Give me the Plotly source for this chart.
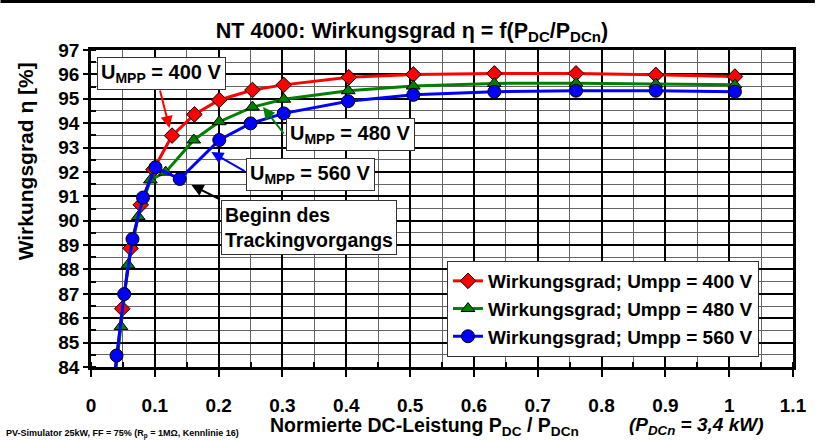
import plotly.graph_objects as go

# ---- data ----
x_400 = [0.037, 0.049, 0.062, 0.078, 0.098, 0.127, 0.162, 0.201, 0.253, 0.302, 0.404, 0.505, 0.632, 0.760, 0.885, 1.009]
y_400 = [83.6, 86.39, 88.87, 90.65, 92.10, 93.49, 94.36, 94.95, 95.36, 95.57, 95.88, 96.00, 96.04, 96.04, 95.98, 95.91]

x_480 = [0.036, 0.047, 0.058, 0.074, 0.093, 0.117, 0.161, 0.201, 0.253, 0.302, 0.403, 0.505, 0.632, 0.760, 0.885, 1.009]
y_480 = [83.2, 85.66, 88.19, 90.17, 91.67, 91.99, 93.31, 94.06, 94.66, 94.98, 95.33, 95.52, 95.63, 95.64, 95.60, 95.57]

x_560 = [0.031, 0.040, 0.052, 0.065, 0.0815, 0.101, 0.139, 0.201, 0.250, 0.302, 0.403, 0.505, 0.632, 0.760, 0.885, 1.009]
y_560 = [82.4, 84.47, 86.99, 89.25, 90.95, 92.19, 91.71, 93.31, 93.99, 94.40, 94.90, 95.16, 95.29, 95.33, 95.33, 95.29]

series_names = ["Wirkungsgrad; Umpp = 400 V", "Wirkungsgrad; Umpp = 480 V", "Wirkungsgrad; Umpp = 560 V"]
x_ticks = [0, 0.1, 0.2, 0.3, 0.4, 0.5, 0.6, 0.7, 0.8, 0.9, 1, 1.1]
x_tick_labels = ["0", "0.1", "0.2", "0.3", "0.4", "0.5", "0.6", "0.7", "0.8", "0.9", "1", "1.1"]
y_ticks = list(range(84, 98))

FONT = "Arial, Liberation Sans, sans-serif"

fig = go.Figure()
fig.add_trace(go.Scatter(x=x_400, y=y_400, name=series_names[0], mode="lines+markers",
                         line=dict(color="#ff0000", width=3),
                         marker=dict(symbol="diamond", size=12, color="#ff0000", line=dict(color="black", width=1))))
fig.add_trace(go.Scatter(x=x_480, y=y_480, name=series_names[1], mode="lines+markers",
                         line=dict(color="#008000", width=3),
                         marker=dict(symbol="triangle-up", size=12, color="#008000", line=dict(color="black", width=1))))
fig.add_trace(go.Scatter(x=x_560, y=y_560, name=series_names[2], mode="lines+markers",
                         line=dict(color="#0000ff", width=3),
                         marker=dict(symbol="circle", size=13, color="#0000ff", line=dict(color="black", width=1))))

L, R, T, B = 91, 797, 50, 367
W, H = 819, 441

def px2x(px):
    return (px - L) / (R - L) * 1.1

def px2y(py):
    return 97 - (py - T) / (B - T) * 13

annotations = []
# text boxes
boxes = [
    ("U<sub>MPP</sub> = 400 V", 97, 57, 20),
    ("U<sub>MPP</sub> = 480 V", 287, 118, 20),
    ("U<sub>MPP</sub> = 560 V", 247, 158, 20),
    ("Beginn des<br>Trackingvorgangs", 222, 200, 19.5),
]
for txt, bx, by, fs in boxes:
    annotations.append(dict(x=px2x(bx), y=px2y(by), xref="x", yref="y", text=txt, showarrow=False,
                            xanchor="left", yanchor="top", align="left",
                            font=dict(family=FONT, size=fs, color="black", weight="bold"),
                            bgcolor="white", bordercolor="#333", borderwidth=1, borderpad=3))
# arrows (head -> tail)
arrows = [
    ((170, 128), (160, 89), "#ff0000"),
    ((264, 107), (286, 135), "#008000"),
    ((212, 152), (247, 172), "#0000ff"),
    ((192, 185), (222, 200), "black"),
]
for (hx, hy), (tx, ty), c in arrows:
    annotations.append(dict(x=px2x(hx), y=px2y(hy), xref="x", yref="y",
                            ax=px2x(tx), ay=px2y(ty), axref="x", ayref="y",
                            text="", showarrow=True, arrowhead=2, arrowsize=1.2,
                            arrowwidth=2, arrowcolor=c))

def pxp(px):
    return (px - L) / (R - L)

def pyp(py):
    return (B - py) / (B - T)

# y-axis title
annotations.append(dict(x=pxp(25), y=pyp(161), xref="paper", yref="paper", text="Wirkungsgrad η [%]",
                        textangle=-90, showarrow=False, xanchor="center", yanchor="middle",
                        font=dict(family=FONT, size=21, color="black", weight="bold")))
# x-axis title
annotations.append(dict(x=pxp(426), y=pyp(426), xref="paper", yref="paper",
                        text="Normierte DC-Leistung P<sub>DC</sub> / P<sub>DCn</sub>",
                        showarrow=False, xanchor="center", yanchor="middle",
                        font=dict(family=FONT, size=19.5, color="black", weight="bold")))
annotations.append(dict(x=pxp(700), y=pyp(426), xref="paper", yref="paper",
                        text="<i>(P<sub>DCn</sub> = 3,4 kW)</i>",
                        showarrow=False, xanchor="center", yanchor="middle",
                        font=dict(family=FONT, size=19, color="black", weight="bold")))
# footnote
annotations.append(dict(x=pxp(4), y=pyp(434), xref="paper", yref="paper",
                        text="PV-Simulator 25kW, FF = 75% (R<sub>p</sub> = 1MΩ, Kennlinie 16)",
                        showarrow=False, xanchor="left", yanchor="middle",
                        font=dict(family=FONT, size=9, color="black", weight="bold")))

fig.update_layout(
    width=W, height=H,
    margin=dict(l=L, r=W - R, t=T, b=H - B),
    paper_bgcolor="white", plot_bgcolor="white",
    font=dict(family=FONT, color="black", weight="bold"),
    title=dict(text="NT 4000: Wirkungsgrad η = f(P<sub>DC</sub>/P<sub>DCn</sub>)",
               x=412 / W, y=1 - 30 / H, xref="container", yref="container",
               xanchor="center", yanchor="middle",
               font=dict(family=FONT, size=21.5, color="black", weight="bold")),
    showlegend=True,
    legend=dict(x=pxp(449), y=pyp(261), xanchor="left", yanchor="top",
                bgcolor="white", bordercolor="#333", borderwidth=1,
                font=dict(family=FONT, size=19, color="black", weight="bold"),
                itemwidth=30, tracegroupgap=0),
    annotations=annotations,
    shapes=[dict(type="line", xref="paper", yref="paper", x0=pxp(0), x1=pxp(W), y0=pyp(1.5), y1=pyp(1.5),
                 line=dict(color="black", width=3))],
)

fig.update_xaxes(range=[0, 1.1], tickvals=x_ticks, ticktext=x_tick_labels,
                 showgrid=True, gridcolor="black", gridwidth=1.6,
                 minor=dict(dtick=0.05, showgrid=True, gridcolor="#666", gridwidth=1,
                            ticks="inside", ticklen=5, tickcolor="black", tickwidth=1.5),
                 ticks="outside", ticklen=7, tickwidth=2, tickcolor="black",
                 showline=True, linecolor="black", linewidth=2.5, mirror=True,
                 zeroline=False, ticklabelstandoff=12,
                 tickfont=dict(family=FONT, size=19, color="black", weight="bold"))
fig.update_yaxes(range=[84, 97], tickvals=y_ticks,
                 showgrid=True, gridcolor="black", gridwidth=1.6,
                 minor=dict(dtick=0.5, showgrid=True, gridcolor="#666", gridwidth=1,
                            ticks="inside", ticklen=5, tickcolor="black", tickwidth=1.5),
                 ticks="outside", ticklen=5, tickwidth=2, tickcolor="black",
                 showline=True, linecolor="black", linewidth=2.5, mirror=True,
                 zeroline=False,
                 tickfont=dict(family=FONT, size=19, color="black", weight="bold"))

fig.write_html("out.html")
